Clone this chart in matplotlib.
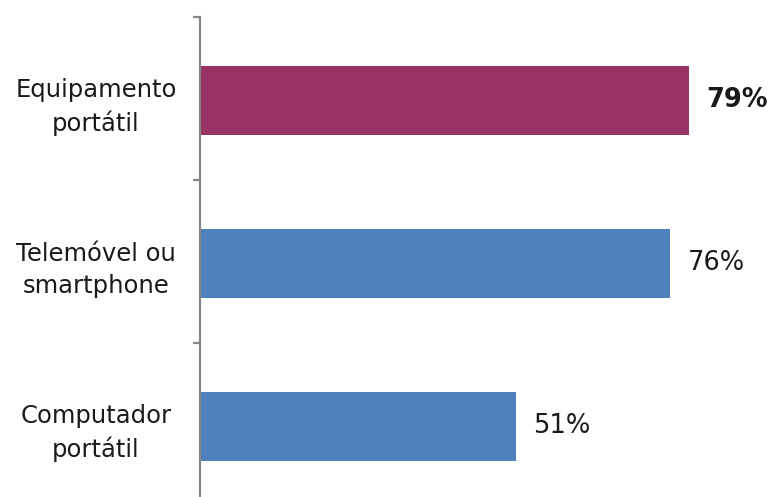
import matplotlib
matplotlib.use("Agg")
import matplotlib.pyplot as plt

# data
categories = ["Equipamento\nportátil", "Telemóvel ou\nsmartphone", "Computador\nportátil"]
values = [79, 76, 51]
value_labels = ["79%", "76%", "51%"]
bar_colors = ["#993366", "#4f81bd", "#4f81bd"]

fig = plt.figure(figsize=(7.75, 4.97), dpi=100)
# axes box in figure coordinates (the axis runs slightly below the bottom edge)
ax = fig.add_axes([200 / 775, -9 / 497, 575 / 775, 489 / 497])

pos = [p + 0.012 for p in range(len(categories))]
ax.barh(pos, values, height=0.42, color=bar_colors)

ax.set_xlim(0, 92.9)
ax.set_ylim(2.5, -0.5)

for s in ["top", "right", "bottom"]:
    ax.spines[s].set_visible(False)
ax.spines["left"].set_color("#868686")
ax.spines["left"].set_linewidth(1.6)
ax.set_xticks([])

# category labels centred, no tick marks at the centres
ax.set_yticks(pos)
ax.set_yticklabels(categories, fontsize=17.5, color="#1a1a1a", linespacing=1.4)
ax.tick_params(axis="y", which="major", length=0, pad=75)
for lab in ax.get_yticklabels():
    lab.set_horizontalalignment("center")

# small tick marks at the category boundaries
ax.set_yticks([-0.5, 0.5, 1.5], minor=True)
ax.tick_params(axis="y", which="minor", length=5, width=1.6, color="#868686")

for i, (v, t) in enumerate(zip(values, value_labels)):
    ax.text(v + 2.8, pos[i], t, va="center", ha="left", fontsize=18.5,
            color="#1a1a1a", fontweight="bold" if i == 0 else "normal")

fig.savefig("out.png", dpi=100)
